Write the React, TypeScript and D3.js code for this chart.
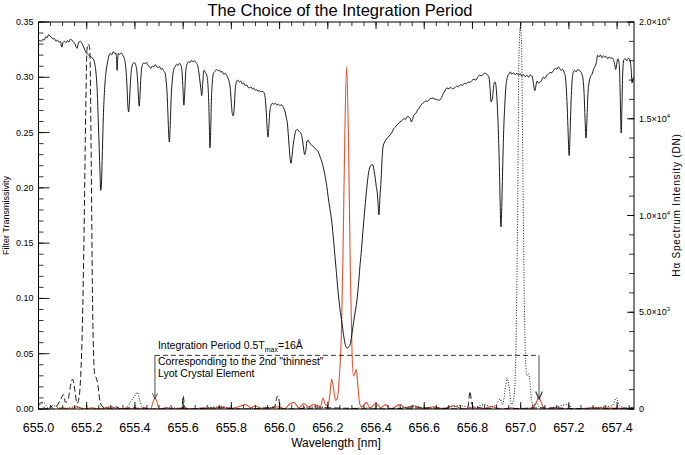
import React from 'react';
import * as d3 from 'd3';

const W = 685;
const H = 455;
const PLOT = { left: 38.5, right: 634, top: 22, bottom: 409 };
const X_DOMAIN: [number, number] = [655.0, 657.47];
const T_DOMAIN: [number, number] = [0, 0.35];
const I_DOMAIN: [number, number] = [0, 20000];

const xTickValues = [655.0, 655.2, 655.4, 655.6, 655.8, 656.0, 656.2, 656.4, 656.6, 656.8, 657.0, 657.2, 657.4];
const leftTickValues = [0, 0.05, 0.1, 0.15, 0.2, 0.25, 0.3, 0.35];
const rightTickValues = [0, 5000, 10000, 15000, 20000];
const rightTickBase = ['0', '5.0×10', '1.0×10', '1.5×10', '2.0×10'];
const rightTickExp = ['', '3', '4', '4', '4'];

// H-alpha spectrum (right axis, DN)
const specWl = [
  655.000, 655.006, 655.012, 655.018, 655.024, 655.030, 655.036, 655.042, 655.048, 655.054,
  655.060, 655.066, 655.072, 655.079, 655.085, 655.091, 655.097, 655.102, 655.108, 655.114,
  655.120, 655.126, 655.132, 655.138, 655.144, 655.150, 655.156, 655.160, 655.164, 655.168,
  655.174, 655.180, 655.186, 655.192, 655.198, 655.204, 655.210, 655.216, 655.222, 655.228,
  655.234, 655.239, 655.244, 655.248, 655.252, 655.255, 655.258, 655.261, 655.265, 655.269,
  655.274, 655.280, 655.286, 655.292, 655.298, 655.304, 655.310, 655.316, 655.321, 655.324,
  655.326, 655.328, 655.331, 655.337, 655.343, 655.349, 655.355, 655.359, 655.363, 655.367,
  655.371, 655.374, 655.377, 655.381, 655.386, 655.392, 655.398, 655.404, 655.408, 655.412,
  655.415, 655.418, 655.421, 655.425, 655.430, 655.436, 655.442, 655.448, 655.454, 655.460,
  655.466, 655.472, 655.478, 655.484, 655.490, 655.496, 655.502, 655.508, 655.514, 655.520,
  655.525, 655.529, 655.533, 655.537, 655.540, 655.543, 655.546, 655.550, 655.555, 655.561,
  655.567, 655.573, 655.579, 655.585, 655.590, 655.595, 655.599, 655.603, 655.607, 655.611,
  655.617, 655.623, 655.629, 655.635, 655.641, 655.647, 655.653, 655.659, 655.664, 655.669,
  655.674, 655.677, 655.681, 655.686, 655.692, 655.698, 655.702, 655.706, 655.709, 655.711,
  655.714, 655.717, 655.721, 655.726, 655.732, 655.738, 655.744, 655.750, 655.756, 655.762,
  655.768, 655.774, 655.780, 655.786, 655.791, 655.796, 655.800, 655.804, 655.808, 655.812,
  655.816, 655.821, 655.827, 655.833, 655.839, 655.845, 655.851, 655.857, 655.863, 655.869,
  655.875, 655.881, 655.887, 655.893, 655.899, 655.905, 655.911, 655.917, 655.923, 655.929,
  655.935, 655.940, 655.945, 655.949, 655.952, 655.955, 655.959, 655.965, 655.971, 655.977,
  655.983, 655.989, 655.995, 656.001, 656.007, 656.013, 656.019, 656.024, 656.028, 656.032,
  656.036, 656.040, 656.044, 656.047, 656.051, 656.056, 656.062, 656.068, 656.074, 656.080,
  656.086, 656.091, 656.096, 656.100, 656.104, 656.108, 656.113, 656.118, 656.124, 656.130,
  656.136, 656.142, 656.148, 656.154, 656.160, 656.166, 656.172, 656.178, 656.184, 656.190,
  656.196, 656.201, 656.208, 656.217, 656.224, 656.230, 656.236, 656.242, 656.250, 656.259,
  656.265, 656.271, 656.276, 656.280, 656.286, 656.292, 656.298, 656.304, 656.312, 656.321,
  656.327, 656.333, 656.340, 656.346, 656.354, 656.362, 656.369, 656.375, 656.381, 656.387,
  656.392, 656.397, 656.401, 656.405, 656.409, 656.412, 656.416, 656.421, 656.425, 656.429,
  656.436, 656.443, 656.450, 656.458, 656.466, 656.474, 656.482, 656.490, 656.499, 656.507,
  656.515, 656.523, 656.531, 656.537, 656.542, 656.547, 656.552, 656.558, 656.565, 656.572,
  656.579, 656.586, 656.593, 656.600, 656.607, 656.614, 656.621, 656.628, 656.636, 656.644,
  656.651, 656.658, 656.665, 656.672, 656.679, 656.686, 656.694, 656.702, 656.710, 656.718,
  656.726, 656.734, 656.742, 656.750, 656.758, 656.766, 656.774, 656.782, 656.790, 656.798,
  656.806, 656.814, 656.822, 656.830, 656.838, 656.846, 656.852, 656.858, 656.864, 656.869,
  656.873, 656.877, 656.881, 656.885, 656.889, 656.894, 656.899, 656.903, 656.907, 656.911,
  656.915, 656.918, 656.921, 656.925, 656.929, 656.934, 656.939, 656.945, 656.951, 656.957,
  656.963, 656.970, 656.977, 656.984, 656.991, 656.998, 657.005, 657.012, 657.019, 657.026,
  657.033, 657.040, 657.047, 657.052, 657.056, 657.059, 657.063, 657.068, 657.074, 657.080,
  657.087, 657.094, 657.101, 657.108, 657.115, 657.122, 657.129, 657.136, 657.143, 657.150,
  657.156, 657.162, 657.168, 657.174, 657.180, 657.185, 657.189, 657.193, 657.197, 657.201,
  657.205, 657.209, 657.213, 657.218, 657.224, 657.230, 657.236, 657.242, 657.248, 657.254,
  657.259, 657.263, 657.267, 657.271, 657.275, 657.279, 657.284, 657.290, 657.296, 657.302,
  657.308, 657.314, 657.319, 657.325, 657.331, 657.337, 657.343, 657.349, 657.355, 657.361,
  657.367, 657.373, 657.379, 657.385, 657.390, 657.394, 657.398, 657.403, 657.408, 657.411,
  657.414, 657.417, 657.420, 657.423, 657.428, 657.434, 657.440, 657.446, 657.452, 657.458,
  657.462, 657.466, 657.470];
const specI = [
  18970, 19060, 18990, 19110, 19060, 19240, 19190, 19350, 19280, 19200,
  19120, 19150, 19010, 19060, 18950, 18990, 18700, 18940, 19000, 18930,
  19040, 18960, 19110, 19060, 18990, 18900, 18720, 18640, 18820, 18980,
  19000, 18900, 18750, 18560, 18400, 18350, 18260, 18220, 18150, 18080,
  17800, 17300, 16300, 14900, 13400, 12300, 11300, 11600, 13300, 15100,
  16500, 17400, 17900, 18250, 18380, 18300, 18470, 18360, 18400, 18000,
  17500, 18000, 18390, 18320, 18400, 18300, 18150, 17950, 17500, 16700,
  15600, 15350, 15800, 16800, 17600, 17850, 17900, 17750, 17450, 16800,
  16000, 15650, 16200, 17200, 17750, 17880, 17850, 17920, 17760, 17700,
  17600, 17720, 17680, 17800, 17700, 17640, 17700, 17560, 17600, 17450,
  17380, 17000, 16400, 15200, 14200, 13800, 14500, 16000, 17000, 17550,
  17700, 17820, 17750, 17870, 17780, 17500, 16600, 15700, 16500, 17500,
  17850, 17950, 17900, 18020, 17940, 18000, 17900, 17800, 17500, 17000,
  16500, 16200, 16800, 17500, 17400, 17250, 16900, 15900, 14400, 13500,
  14300, 15900, 16900, 17350, 17450, 17550, 17480, 17520, 17400, 17450,
  17300, 17350, 17250, 17100, 16900, 16500, 15800, 15250, 15150, 15600,
  16500, 16900, 17000, 16900, 16950, 16800, 16850, 16700, 16750, 16620,
  16600, 16650, 16540, 16580, 16480, 16500, 16420, 16450, 16400, 16420,
  16350, 16100, 15300, 14400, 14050, 14500, 15300, 15700, 15800, 15750,
  15800, 15700, 15760, 15680, 15720, 15650, 15500, 15300, 15050, 14800,
  14200, 13500, 12900, 12700, 13000, 13600, 14100, 14400, 14450, 14350,
  14300, 14150, 13800, 13400, 13150, 13300, 13800, 13900, 13750, 13680,
  13600, 13550, 13450, 13380, 13300, 13100, 12900, 12650, 12350, 11950,
  11500, 11000, 10400, 9610, 8700, 7860, 7000, 6150, 5200, 4440,
  3850, 3410, 3200, 3150, 3200, 3310, 3700, 4240, 4900, 5630,
  6400, 7340, 8300, 9250, 10400, 11470, 12200, 12510, 12620, 12610,
  12300, 11900, 11500, 11200, 10500, 10030, 10900, 11850, 12900, 13540,
  13800, 13950, 14050, 14160, 14300, 14500, 14600, 14720, 14830, 14900,
  15000, 14980, 15120, 15090, 15000, 14830, 15000, 15200, 15280, 15450,
  15550, 15700, 15800, 15850, 15930, 15900, 16000, 16050, 16070, 16020,
  16000, 15960, 15970, 16100, 16300, 16450, 16590, 16550, 16620, 16540,
  16600, 16680, 16650, 16760, 16720, 16830, 16800, 16900, 16880, 16980,
  17050, 17000, 17150, 17250, 17220, 17330, 17360, 17300, 17250, 17100,
  16600, 15870, 15950, 16300, 16800, 16900, 16500, 15700, 14500, 12800,
  10600, 9410, 10200, 12300, 14200, 15700, 16700, 17150, 17300, 17420,
  17300, 17380, 17280, 17350, 17250, 17320, 17200, 17280, 17180, 17250,
  17150, 17260, 17200, 16900, 16550, 16450, 16700, 16950, 16850, 16880,
  17000, 17150, 17080, 17250, 17300, 17400, 17380, 17500, 17600, 17560,
  17680, 17600, 17500, 17560, 17400, 17200, 16600, 15600, 14200, 13100,
  14300, 15900, 16900, 17400, 17500, 17420, 17550, 17500, 17450, 17300,
  17000, 16300, 15000, 14000, 15000, 16300, 16900, 17200, 17300, 17550,
  17700, 17900, 18280, 18200, 18300, 18150, 18250, 18180, 18220, 18100,
  18200, 18120, 18150, 18050, 17800, 17550, 17800, 18100, 17900, 17200,
  15500, 14260, 15600, 17300, 18050, 18100, 18000, 18120, 18080, 17600,
  16850, 17100, 17160];

// Dashed filter (left axis)
const dashWl = [655.000, 655.012, 655.020, 655.035, 655.050, 655.062, 655.080, 655.095, 655.103, 655.112,
  655.122, 655.132, 655.141, 655.150, 655.160, 655.168, 655.175, 655.182, 655.189, 655.196,
  655.201, 655.207, 655.213, 655.218, 655.224, 655.229, 655.234, 655.240, 655.246, 655.253,
  655.262, 655.275, 655.300, 655.320, 655.345, 655.390, 655.450, 655.540, 655.595, 655.600,
  655.605, 655.612, 655.750, 655.850, 655.980, 655.988, 655.994, 656.000, 656.010, 656.200,
  656.400, 656.600, 656.780, 656.790, 656.796, 656.805, 656.900, 657.100, 657.300, 657.470];
const dashT = [0.003, 0.006, 0.002, 0.000, 0.003, 0.000, 0.004, 0.010, 0.013, 0.006,
  0.008, 0.020, 0.027, 0.018, 0.005, 0.010, 0.030, 0.075, 0.160, 0.270,
  0.325, 0.330, 0.325, 0.240, 0.100, 0.045, 0.030, 0.028, 0.022, 0.010,
  0.003, 0.001, 0.000, 0.002, 0.000, 0.001, 0.000, 0.000, 0.000, 0.012,
  0.004, 0.000, 0.001, 0.000, 0.002, 0.010, 0.012, 0.005, 0.000, 0.001,
  0.000, 0.001, 0.000, 0.016, 0.006, 0.002, 0.000, 0.001, 0.000, 0.001];

// Dotted filter (left axis)
const dotWl = [655.000, 655.020, 655.040, 655.060, 655.100, 655.150, 655.200, 655.300, 655.360, 655.380,
  655.400, 655.410, 655.420, 655.430, 655.470, 655.550, 655.650, 655.750, 655.850, 655.950,
  656.050, 656.150, 656.250, 656.350, 656.450, 656.550, 656.650, 656.750, 656.800, 656.850,
  656.880, 656.900, 656.915, 656.925, 656.935, 656.943, 656.952, 656.962, 656.972, 656.980,
  656.987, 656.993, 656.998, 657.003, 657.009, 657.015, 657.020, 657.026, 657.032, 657.038,
  657.045, 657.055, 657.065, 657.075, 657.100, 657.150, 657.196, 657.220, 657.300, 657.380,
  657.397, 657.410, 657.440, 657.470];
const dotT = [0.002, 0.006, 0.001, 0.003, 0.000, 0.002, 0.000, 0.001, 0.000, 0.006,
  0.012, 0.015, 0.008, 0.002, 0.000, 0.001, 0.000, 0.002, 0.000, 0.001,
  0.000, 0.002, 0.000, 0.001, 0.000, 0.002, 0.000, 0.003, 0.001, 0.004,
  0.002, 0.004, 0.009, 0.004, 0.016, 0.028, 0.020, 0.004, 0.010, 0.050,
  0.170, 0.320, 0.345, 0.335, 0.220, 0.100, 0.045, 0.030, 0.032, 0.025,
  0.008, 0.003, 0.006, 0.002, 0.000, 0.002, 0.004, 0.000, 0.001, 0.003,
  0.010, 0.003, 0.001, 0.002];

// Red filter (left axis)
const redWl = [655.080, 655.100, 655.130, 655.160, 655.190, 655.220, 655.260, 655.300, 655.330, 655.370,
  655.400, 655.440, 655.465, 655.475, 655.483, 655.492, 655.500, 655.530, 655.560, 655.600,
  655.640, 655.680, 655.720, 655.760, 655.790, 655.830, 655.860, 655.880, 655.900, 655.930,
  656.000, 656.020, 656.040, 656.060, 656.080, 656.100, 656.120, 656.140, 656.160, 656.170,
  656.180, 656.190, 656.200, 656.208, 656.216, 656.224, 656.232, 656.240, 656.248, 656.256,
  656.263, 656.270, 656.278, 656.286, 656.293, 656.300, 656.306, 656.312, 656.318, 656.325,
  656.333, 656.342, 656.360, 656.375, 656.400, 656.420, 656.440, 656.460, 656.500, 656.520,
  656.560, 656.600, 656.640, 656.680, 656.720, 656.760, 656.800, 656.840, 656.880, 656.920,
  656.960, 657.000, 657.050, 657.065, 657.075, 657.085, 657.100, 657.150, 657.200, 657.300,
  657.470];
const redT = [0.000, 0.001, 0.000, 0.002, 0.000, 0.001, 0.000, 0.002, 0.000, 0.001,
  0.000, 0.001, 0.000, 0.006, 0.010, 0.006, 0.000, 0.001, 0.000, 0.001,
  0.000, 0.001, 0.000, 0.002, 0.000, 0.002, 0.004, 0.001, 0.003, 0.000,
  0.002, 0.000, 0.004, 0.006, 0.001, 0.005, 0.002, 0.004, 0.003, 0.002,
  0.010, 0.004, 0.003, 0.012, 0.027, 0.018, 0.008, 0.010, 0.030, 0.065,
  0.140, 0.240, 0.310, 0.240, 0.130, 0.055, 0.030, 0.032, 0.036, 0.020,
  0.004, 0.002, 0.006, 0.001, 0.005, 0.001, 0.004, 0.000, 0.004, 0.001,
  0.003, 0.000, 0.002, 0.000, 0.003, 0.000, 0.001, 0.000, 0.002, 0.000,
  0.001, 0.000, 0.001, 0.006, 0.011, 0.006, 0.000, 0.001, 0.000, 0.001,
  0.000];

// Annotation (data coordinates)
const annotLeftWl = 655.483;
const annotRightWl = 657.076;
const annotLevel = 0.0485;
const annotTip = 0.009;

const FONT = 'Liberation Sans, Arial, Helvetica, sans-serif';

export default function App() {
  const x = d3.scaleLinear().domain(X_DOMAIN).range([PLOT.left, PLOT.right]);
  const yT = d3.scaleLinear().domain(T_DOMAIN).range([PLOT.bottom, PLOT.top]);
  const yI = d3.scaleLinear().domain(I_DOMAIN).range([PLOT.bottom, PLOT.top]);

  const specLine = d3.line<number>().x((_, i) => x(specWl[i])).y((d) => yI(d)).curve(d3.curveMonotoneX);
  const filterLine = (wl: number[]) =>
    d3.line<number>().x((_, i) => x(wl[i])).y((d) => yT(d)).curve(d3.curveMonotoneX);

  const xMinor = d3.range(655.0, 657.47, 0.05);
  const tMinor = d3.range(0, 0.3501, 0.01);
  const iMinor = d3.range(0, 20001, 1000);

  const clipId = 'plotclip';
  const ax = '#000';

  return (
    <svg width={W} height={H} style={{ position: 'absolute', left: 0, top: 0, background: '#fff' }} fontFamily={FONT}>
      <defs>
        <clipPath id={clipId}>
          <rect x={PLOT.left} y={PLOT.top} width={PLOT.right - PLOT.left} height={PLOT.bottom - PLOT.top} />
        </clipPath>
        <marker id="arrow" viewBox="0 0 10 10" refX="9" refY="5" markerWidth="7" markerHeight="7" orient="auto">
          <path d="M0,1 L9,5 L0,9" fill="none" stroke="#333" strokeWidth="1.4" />
        </marker>
      </defs>

      <text x={340} y={16} textAnchor="middle" fontSize={16.5} fill="#000">The Choice of the Integration Period</text>

      <g clipPath={`url(#${clipId})`}>
        <path d={filterLine(redWl)(redT) || ''} fill="none" stroke="#E8502A" strokeWidth={1.1} />
        <path d={filterLine(dashWl)(dashT) || ''} fill="none" stroke="#000" strokeWidth={0.9} strokeDasharray="6,3" />
        <path d={filterLine(dotWl)(dotT) || ''} fill="none" stroke="#000" strokeWidth={0.9} strokeDasharray="1,1.6" />
        <path d={specLine(specI) || ''} fill="none" stroke="#000" strokeWidth={0.9} />
      </g>

      {/* annotation */}
      <path
        d={`M${x(annotLeftWl)},${yT(annotLevel)} H${x(annotRightWl)}`}
        fill="none" stroke="#000" strokeWidth={0.8} strokeDasharray="5,3" />
      <line x1={x(annotLeftWl)} x2={x(annotLeftWl)} y1={yT(annotLevel)} y2={yT(annotTip)} stroke="#333" strokeWidth={0.9} markerEnd="url(#arrow)" />
      <line x1={x(annotRightWl)} x2={x(annotRightWl)} y1={yT(annotLevel)} y2={yT(annotTip)} stroke="#666" strokeWidth={1.2} markerEnd="url(#arrow)" />
      <text x={x(annotLeftWl) + 3} y={yT(annotLevel) - 6} fontSize={10.5} fill="#000">
        Integration Period 0.5T<tspan fontSize={7} dy={3}>max</tspan><tspan dy={-3}>=16Å</tspan>
      </text>
      <text x={x(annotLeftWl) + 3} y={yT(annotLevel) + 10} fontSize={10.5} fill="#000">Corresponding to the 2nd "thinnest"</text>
      <text x={x(annotLeftWl) + 3} y={yT(annotLevel) + 22} fontSize={10.5} fill="#000">Lyot Crystal Element</text>

      {/* frame */}
      <rect x={PLOT.left} y={PLOT.top} width={PLOT.right - PLOT.left} height={PLOT.bottom - PLOT.top} fill="none" stroke={ax} strokeWidth={1} />

      {/* x ticks bottom & top */}
      {xMinor.map((v, i) => (
        <g key={'xm' + i}>
          <line x1={x(v)} x2={x(v)} y1={PLOT.bottom} y2={PLOT.bottom - 4} stroke={ax} strokeWidth={0.8} />
          <line x1={x(v)} x2={x(v)} y1={PLOT.top} y2={PLOT.top + 4} stroke={ax} strokeWidth={0.8} />
        </g>
      ))}
      {xTickValues.map((v) => (
        <g key={'x' + v}>
          <line x1={x(v)} x2={x(v)} y1={PLOT.bottom} y2={PLOT.bottom - 7} stroke={ax} strokeWidth={0.9} />
          <line x1={x(v)} x2={x(v)} y1={PLOT.top} y2={PLOT.top + 7} stroke={ax} strokeWidth={0.9} />
          <text x={x(v)} y={432} textAnchor="middle" fontSize={12.5} fill="#000">{v.toFixed(1)}</text>
        </g>
      ))}
      <text x={336} y={447} textAnchor="middle" fontSize={12} fill="#000">Wavelength [nm]</text>

      {/* left axis */}
      {tMinor.map((v, i) => (
        <line key={'tm' + i} x1={PLOT.left} x2={PLOT.left + 5} y1={yT(v)} y2={yT(v)} stroke={ax} strokeWidth={0.8} />
      ))}
      {leftTickValues.map((v) => (
        <g key={'t' + v}>
          <line x1={PLOT.left} x2={PLOT.left + 11} y1={yT(v)} y2={yT(v)} stroke={ax} strokeWidth={0.9} />
          <text x={PLOT.left - 5} y={yT(v) + 3} textAnchor="end" fontSize={9} fill="#000">{v.toFixed(2)}</text>
        </g>
      ))}
      <text transform={`translate(9,${(PLOT.top + PLOT.bottom) / 2}) rotate(-90)`} textAnchor="middle" fontSize={9} fill="#000">Filter Transmissivity</text>

      {/* right axis */}
      {iMinor.map((v, i) => (
        <line key={'im' + i} x1={PLOT.right} x2={PLOT.right - 5} y1={yI(v)} y2={yI(v)} stroke={ax} strokeWidth={0.8} />
      ))}
      {rightTickValues.map((v, i) => (
        <g key={'i' + v}>
          <line x1={PLOT.right} x2={PLOT.right - 7} y1={yI(v)} y2={yI(v)} stroke={ax} strokeWidth={0.9} />
          <text x={PLOT.right + 5} y={yI(v) + 3} fontSize={9} fill="#000">
            {rightTickBase[i]}
            {rightTickExp[i] ? <tspan fontSize={6} dy={-4}>{rightTickExp[i]}</tspan> : null}
          </text>
        </g>
      ))}
      <text transform={`translate(680,205) rotate(-90)`} textAnchor="middle" fontSize={10} letterSpacing={0.8} fill="#000">Hα Spectrum Intensity (DN)</text>
    </svg>
  );
}
